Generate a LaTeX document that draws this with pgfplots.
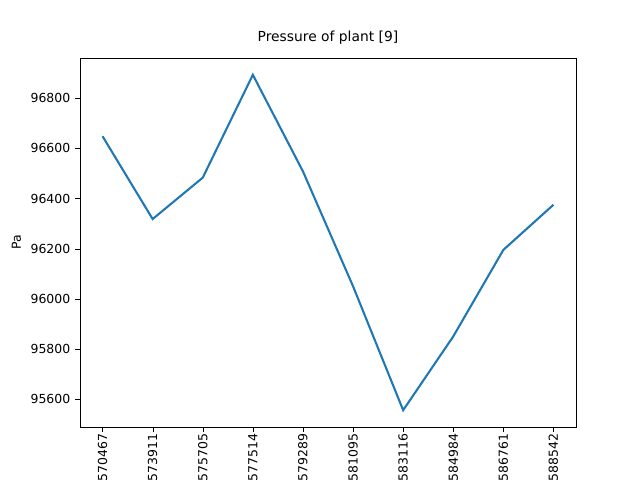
\documentclass[border=0pt]{standalone}
\usepackage{pgfplots}
\pgfplotsset{compat=1.18}
\usepackage{fontspec}
\setmainfont{DejaVu Sans}
\begin{document}
\begin{tikzpicture}
\path[use as bounding box] (-0.8in,-0.53in) rectangle (5.6in,4.27in);
\begin{axis}[at={(0,0)},anchor=south west,
  width=4.96in,height=3.69in,scale only axis,
  xmin=-0.45,xmax=9.45,ymin=95489,ymax=96960,
  xtick={0,...,9},
  xticklabels={1570467,1573911,1575705,1577514,1579289,1581095,1583116,1584984,1586761,1588542},
  xticklabel style={rotate=90,anchor=east,font=\small,inner sep=1pt},
  ytick={95600,95800,96000,96200,96400,96600,96800},
  yticklabel style={font=\small,/pgf/number format/1000 sep={}},
  /pgf/number format/assume math mode=true,
  scaled y ticks=false,
  ylabel={Pa},ylabel style={font=\small},
  title={Pressure of plant [9]},title style={font=\normalsize},
  tick align=outside,
  tick pos=left,
  tick style={black},
  major tick length=3.5pt,
]
\addplot[color={rgb,255:red,31;green,119;blue,180},line width=1.5pt,mark=none] coordinates {
(0,96648)(1,96318)(2,96483)(3,96893)(4,96508)(5,96050)(6,95556)(7,95850)(8,96195)(9,96375)};
\end{axis}
\end{tikzpicture}
\end{document}
